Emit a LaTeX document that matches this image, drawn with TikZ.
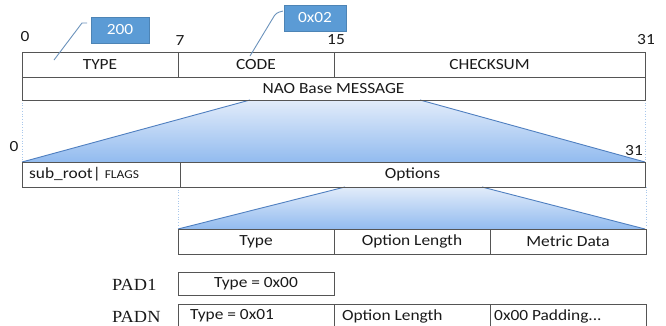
\documentclass[tikz,border=0pt]{standalone}
\usepackage{fontspec}
\setmainfont{Carlito}[FakeStretch=1.12]
\newfontfamily\padfont{Liberation Serif}[FakeStretch=1.08]
\definecolor{cellline}{HTML}{555555}
\definecolor{txt}{HTML}{1A1A1A}
\definecolor{callblue}{HTML}{5B9BD5}
\definecolor{calline}{HTML}{6C93BC}
\definecolor{guideblue}{HTML}{A9C8EC}
\definecolor{fanTop}{HTML}{E2ECFA}
\definecolor{fanBot}{HTML}{92BBEF}
\definecolor{fanline}{HTML}{4F7FC0}
\newcommand{\mainsz}{\fontsize{15.5}{18}\selectfont}
\newcommand{\smallsz}{\fontsize{12}{14}\selectfont}
\tikzset{
  cell/.style={draw=cellline, line width=1pt, rectangle, inner sep=0pt, font=\mainsz, text=txt},
  celltext/.style={anchor=west, inner sep=0pt, font=\mainsz, text=txt},
  bitlbl/.style={inner sep=0pt, font=\mainsz, text=txt},
  padlbl/.style={anchor=west, inner sep=0pt, font=\padfont\fontsize{17}{19}\selectfont, text=txt},
  callout/.style={rectangle, fill=callblue, draw=callblue!85!black, line width=0.4pt, text=white, font=\mainsz, inner sep=0pt, minimum width=58, minimum height=26},
  calline/.style={draw=calline, line width=0.9pt},
  guide/.style={draw=guideblue, dotted, line width=0.7pt},
  fan/.style={top color=fanTop, bottom color=fanBot},
  fanedge/.style={draw=fanline, line width=0.9pt},
}
\begin{document}
\begin{tikzpicture}[x=1pt,y=-1pt]
\useasboundingbox (0,0) rectangle (666,325);
\fill[white] (0,0) rectangle (666,325);

% fans
\shade[fan] (250,100) -- (420,100) -- (645,162) -- (22,162) -- cycle;
\shade[fan] (345,187) -- (482,187) -- (645,229) -- (178,229) -- cycle;
\coordinate (f1a) at (250,100);
\coordinate (f1b) at (22,162);
\coordinate (f1c) at (420,100);
\coordinate (f1d) at (645,162);
\coordinate (f2a) at (345,187);
\coordinate (f2b) at (178,229);
\coordinate (f2c) at (482,187);
\coordinate (f2d) at (645,229);
\draw[fanedge] (f1a) -- (f1b);
\draw[fanedge] (f1c) -- (f1d);
\draw[fanedge] (f2a) -- (f2b);
\draw[fanedge] (f2c) -- (f2d);

% guides
\coordinate (g1a) at (22,100);
\coordinate (g1b) at (22,160);
\coordinate (g2a) at (645,100);
\coordinate (g2b) at (645,160);
\coordinate (g3a) at (178,187);
\coordinate (g3b) at (178,227);
\coordinate (g4a) at (646,187);
\coordinate (g4b) at (646,227);
\draw[guide] (g1a) -- (g1b);
\draw[guide] (g2a) -- (g2b);
\draw[guide] (g3a) -- (g3b);
\draw[guide] (g4a) -- (g4b);

% top header
\node[cell, minimum width=156, minimum height=25] (type) at (100,64.5) {TYPE};
\node[cell, minimum width=156, minimum height=25] (code) at (256,64.5) {CODE};
\node[cell, minimum width=311, minimum height=25] (checksum) at (489.5,64.5) {CHECKSUM};
\node[cell, minimum width=623, minimum height=23] (nao) at (333.5,88.5) {NAO Base MESSAGE};

% bit labels
\node[bitlbl] (b0) at (25,37) {0};
\node[bitlbl] (b7) at (180,41) {7};
\node[bitlbl] (b15) at (336,40) {15};
\node[bitlbl] (b31) at (646,40) {31};
\node[bitlbl] (c0) at (14,147) {0};
\node[bitlbl] (c31) at (634,151) {31};

% callouts
\node[callout] (v200) at (120,30) {200};
\node[callout, minimum width=62] (v02) at (315,18) {0x02};
\coordinate (t1) at (54,60);
\coordinate (t1k) at (82,23);
\coordinate (t1e) at (87,23);
\coordinate (t2) at (250,56);
\coordinate (t2k) at (276,13);
\coordinate (t2e) at (283,11);
\draw[calline] (t1) -- (t1k) -- (t1e);
\draw[calline, rounded corners=3pt] (t2) -- (t2k) -- (t2e);

% second row
\node[cell, minimum width=158, minimum height=25] (subroot) at (101,174.5) {};
\node[celltext] (subtxt) at (29,174.5) {sub\_root|\hspace{4pt}{\smallsz FLAGS}};
\node[cell, minimum width=465, minimum height=25] (options) at (412.5,174.5) {Options};

% option detail
\node[cell, minimum width=156, minimum height=25] (otype) at (256,241.5) {Type};
\node[cell, minimum width=156, minimum height=25] (olen) at (412,241.5) {Option Length};
\node[cell, minimum width=156, minimum height=25] (ometric) at (568,241.5) {Metric Data};

% PAD1
\node[padlbl] (pad1) at (112,285) {PAD1};
\node[cell, minimum width=156, minimum height=23] (pad1type) at (256,283.5) {Type = 0x00};

% PADN
\node[padlbl] (padn) at (112,317) {PADN};
\node[cell, minimum width=156, minimum height=26] (padna) at (256,317) {};
\node[cell, minimum width=156, minimum height=26] (padnb) at (412,317) {};
\node[cell, minimum width=156, minimum height=26] (padnc) at (568,317) {};
\node[celltext] (padnat) at (190,316) {Type = 0x01};
\node[celltext] (padnbt) at (342,316) {Option Length};
\node[celltext] (padnct) at (494,316) {0x00 Padding...};
\end{tikzpicture}
\end{document}
